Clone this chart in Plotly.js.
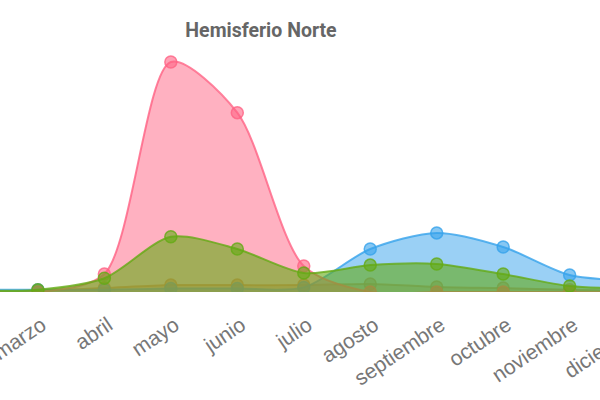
<!DOCTYPE html>
<html>
<head>
<meta charset="utf-8">
<script src="https://cdn.plot.ly/plotly-3.0.1.min.js"></script>
<style>html,body{margin:0;padding:0;background:#fff;overflow:hidden}#chart{width:676px;height:400px}</style>
</head>
<body>
<div id="chart"></div>
<script>
const months = ["enero","febrero","marzo","abril","mayo","junio","julio","agosto","septiembre","octubre","noviembre","diciembre"];
const seriesOrange = [0.5, 0.5, 0.5, 1.7, 3, 3, 3, 3.5, 2.2, 1.7, 1, 0.5];
const seriesBlue   = [1, 1, 1, 1, 1.5, 1.5, 2, 18.7, 25.7, 19.6, 7.4, 5];
const seriesPink   = [0, 0, 0, 7.8, 100, 78, 11.3, 0, 0, 0, 0, 0];
const seriesGreen  = [0.5, 0.5, 1, 6, 24, 18.7, 8.3, 11.7, 12.2, 7.8, 2.6, 1.5];

function mk(y, rgb, fillA, name) {
  return {
    x: months, y: y, name: name, type: 'scatter', mode: 'lines+markers',
    fill: 'tozeroy', fillcolor: 'rgba(' + rgb + ',' + fillA + ')',
    line: {shape: 'spline', smoothing: 0.8, color: 'rgba(' + rgb + ',0.8)', width: 2},
    marker: {size: 12, color: 'rgba(' + rgb + ',0.6)', line: {width: 1.5, color: 'rgba(' + rgb + ',0.8)'}},
    hoverinfo: 'skip', cliponaxis: true
  };
}

const data = [
  mk(seriesOrange, '225,140,60', 0.45, 'o'),
  mk(seriesBlue, '54,162,235', 0.5, 'b'),
  mk(seriesPink, '255,99,132', 0.5, 'p'),
  mk(seriesGreen, '100,170,20', 0.6, 'g')
];

const layout = {
  width: 676, height: 400,
  margin: {l: 0, r: 0, t: 40, b: 108, pad: 0},
  paper_bgcolor: '#fff', plot_bgcolor: '#fff',
  showlegend: false,
  title: {text: '<b>Hemisferio Norte</b>', x: 261/676, xanchor: 'center', y: 0.925, yanchor: 'middle', yref: 'container',
          font: {family: 'Roboto, "Liberation Sans", Arial, sans-serif', size: 19.5, color: '#666'}},
  xaxis: {type: 'category', range: [1.43, 11.6], showgrid: false, zeroline: false, showline: false,
          ticks: '', tickangle: -34, ticklabelstandoff: 16, ticklabelshift: 4,
          tickfont: {family: '"Liberation Sans", Arial, sans-serif', size: 21, color: '#777'}},
  yaxis: {range: [0, 109.6], visible: false, showgrid: false, zeroline: false, fixedrange: true}
};

Plotly.newPlot('chart', data, layout, {staticPlot: true, displayModeBar: false});
</script>
</body>
</html>
